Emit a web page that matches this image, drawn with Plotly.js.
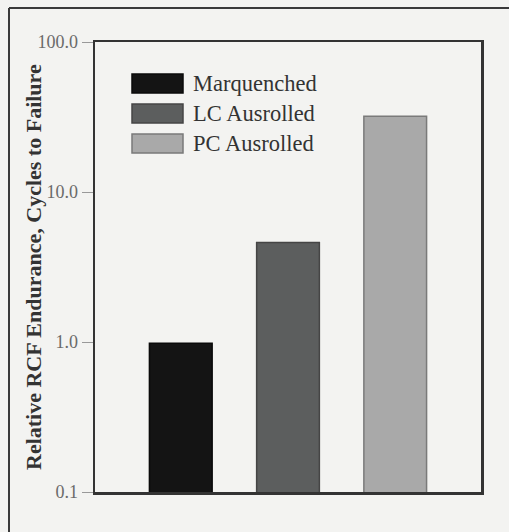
<!DOCTYPE html>
<html>
<head>
<meta charset="utf-8">
<script src="https://cdn.plot.ly/plotly-3.0.1.min.js"></script>
<style>html,body{margin:0;padding:0;background:#f3f3f1;}#chart{width:509px;height:532px;}</style>
</head>
<body>
<div id="chart"></div>
<script>
// Data
var categories = ["Marquenched", "LC Ausrolled", "PC Ausrolled"];
var values = [0.98, 4.6, 32];
var barColors = ["#141414", "#5c5e5e", "#a9a9a9"];
var barLineColors = ["#0a0a0a", "#454545", "#7a7a7a"];
var tickValues = [0.1, 1, 10, 100];
var tickLabels = ["0.1", "1.0", "10.0", "100.0"];
var yTitle = "Relative RCF Endurance, Cycles to Failure";

// Geometry (pixels) -> paper coordinates
var W = 509, H = 532, L = 95, R = 28, T = 42, B = 40;
var pw = W - L - R, ph = H - T - B;
function px(x){ return (x - L) / pw; }
function py(y){ return (H - B - y) / ph; }

var traces = categories.map(function(c, i){
  return {
    type: "bar",
    x: [i],
    y: [values[i]],
    name: c,
    width: 0.585,
    marker: {color: barColors[i], line: {color: barLineColors[i], width: 1.5}},
    showlegend: false,
    hoverinfo: "skip"
  };
});

var serif = "Liberation Serif, Times New Roman, serif";
var shapes = [
  // outer frame (top and left)
  {type: "line", xref: "paper", yref: "paper", x0: px(9), x1: px(509), y0: py(8), y1: py(8), line: {color: "#3a3a3a", width: 2}},
  {type: "line", xref: "paper", yref: "paper", x0: px(9), x1: px(9), y0: py(8), y1: py(532), line: {color: "#3a3a3a", width: 2}}
];
var annotations = [
  {xref: "paper", yref: "paper", x: px(33), y: py(267), xanchor: "center", yanchor: "middle", textangle: -90,
   text: "<b>" + yTitle + "</b>", showarrow: false, font: {family: serif, size: 22, color: "#333"}}
];
var legendTops = [74, 104, 134];
categories.forEach(function(c, i){
  var y0 = legendTops[i], y1 = y0 + 19;
  shapes.push({type: "rect", xref: "paper", yref: "paper", x0: px(132), x1: px(183), y0: py(y1), y1: py(y0),
    fillcolor: barColors[i], line: {color: barLineColors[i], width: 1.5}});
  annotations.push({xref: "paper", yref: "paper", x: px(191), y: py((y0 + y1) / 2), xanchor: "left", yanchor: "middle",
    text: c, showarrow: false, font: {family: serif, size: 22.5, color: "#333"}});
});

var layout = {
  width: W, height: H,
  margin: {l: L, r: R, t: T, b: B, pad: 0},
  paper_bgcolor: "#f3f3f1",
  plot_bgcolor: "#f3f3f1",
  showlegend: false,
  xaxis: {
    range: [-0.8, 2.8], showticklabels: false, ticks: "", showgrid: false, zeroline: false,
    showline: true, linecolor: "#333", linewidth: 2.5, mirror: true, fixedrange: true
  },
  yaxis: {
    type: "log", range: [-1, 2], tickvals: tickValues, ticktext: tickLabels,
    ticks: "outside", ticklen: 11, tickcolor: "#999", tickwidth: 1,
    showgrid: false, zeroline: false,
    showline: true, linecolor: "#333", linewidth: 2.5, mirror: true,
    tickfont: {family: serif, size: 18, color: "#6a6a6a"},
    fixedrange: true
  },
  shapes: shapes,
  annotations: annotations
};

Plotly.newPlot("chart", traces, layout, {displayModeBar: false, staticPlot: true});
</script>
</body>
</html>
